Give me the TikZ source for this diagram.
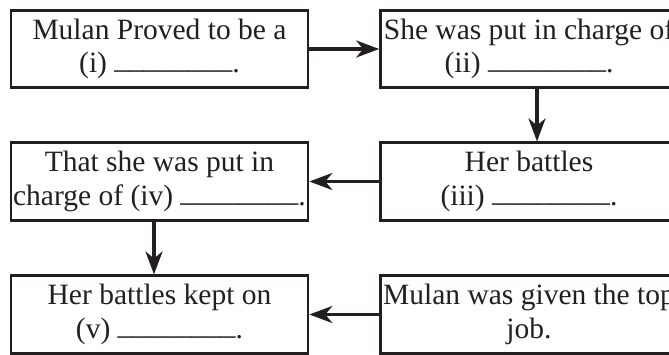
\documentclass[tikz,border=0pt]{standalone}
\usepackage{fontspec}
\setmainfont{Liberation Serif}
\usetikzlibrary{arrows.meta}
\definecolor{ink}{HTML}{231F20}
\newcommand{\blankline}{\raisebox{4pt}{\_\_\_\_\_\_\_\_}}
\begin{document}
\begin{tikzpicture}[x=1pt,y=1pt,
  box/.style={draw=ink, line width=2.6pt, minimum width=297pt, minimum height=77.5pt,
    inner sep=0pt, align=center, text=ink,
    font=\fontsize{29.5pt}{33.5pt}\selectfont},
  arr/.style={draw=ink, line width=3.2pt,
    -{Stealth[length=23pt,width=17pt,inset=7pt]}}]
\clip (0,0) rectangle (669,-354);
\fill[white] (0,0) rectangle (669,-354);
\node[box] (b1) at (159.5,-49) {Mulan Proved to be a\\(i) \blankline.};
\node[box] (b2) at (529,-49) {She was put in charge of\\(ii) \blankline.};
\node[box] (b3) at (529,-181.5) {Her battles\\(iii) \blankline.};
\node[box] (b4) at (159.5,-181.5) {That she was put in\\charge of (iv) \blankline.};
\node[box] (b5) at (159.5,-314.5) {Her battles kept on\\(v) \blankline.};
\node[box] (b6) at (529,-314.5) {Mulan was given the top\\job.};
\draw[arr] (b1.east) -- (b2.west);
\draw[arr] ([xshift=8pt]b2.south) -- ([xshift=8pt]b3.north);
\draw[arr] (b3.west) -- (b4.east);
\draw[arr] ([xshift=-5.5pt]b4.south) -- ([xshift=-5.5pt]b5.north);
\draw[arr] (b6.west) -- (b5.east);
\end{tikzpicture}
\end{document}
